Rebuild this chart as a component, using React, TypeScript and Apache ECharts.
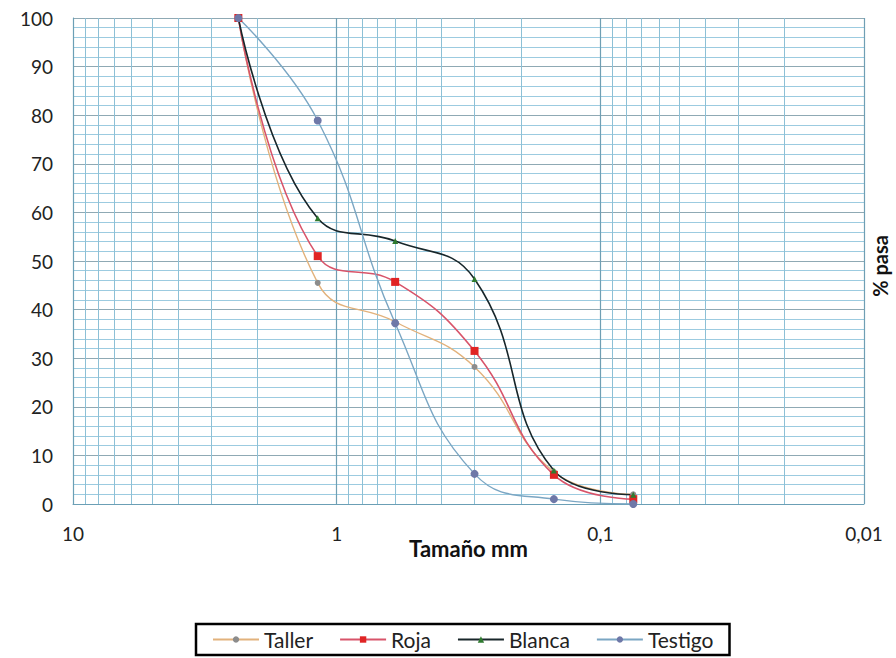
import React, { useEffect, useRef } from "react";
import * as echarts from "echarts";

const sieveSizes = [2.36, 1.18, 0.6, 0.3, 0.15, 0.075];
const taller = [100, 45.5, 37.5, 28.2, 6.6, 2];
const roja = [100, 51, 45.7, 31.5, 6, 1];
const blanca = [100, 58.8, 54.1, 46.3, 6.9, 1.9];
const testigo = [100, 78.9, 37.2, 6.2, 1, 0];
const xTickLabels: Record<string, string> = { "10": "10", "1": "1", "0.1": "0,1", "0.01": "0,01" };
const seriesNames = ["Taller", "Roja", "Blanca", "Testigo"];

const FONT = "Lato, 'Open Sans', sans-serif";

function pairs(vals: number[]) {
  return sieveSizes.map((s, i) => [s, vals[i]]);
}

export default function App() {
  const ref = useRef<HTMLDivElement>(null);
  useEffect(() => {
    if (!ref.current) return;
    const chart = echarts.init(ref.current, null, { renderer: "svg" });
    const minorX: number[] = [];
    [1, 0.1, 0.01].forEach((d) => {
      for (let k = 2; k <= 9; k++) minorX.push(+(k * d).toPrecision(3));
    });
    const mk = (
      name: string,
      vals: number[],
      lineColor: string,
      markerColor: string,
      symbol: string,
      size: number,
      width: number
    ) => ({
      name,
      type: "line",
      data: pairs(vals),
      smooth: 0.45,
      symbol,
      symbolSize: size,
      z: 5,
      lineStyle: { color: lineColor, width },
      itemStyle: { color: markerColor, borderWidth: 0 },
      emphasis: { disabled: true },
    });
    chart.setOption({
      animation: false,
      backgroundColor: "#ffffff",
      textStyle: { fontFamily: FONT },
      grid: { left: 73, right: 32, top: 18, bottom: 154 },
      xAxis: {
        type: "log",
        logBase: 10,
        min: 0.01,
        max: 10,
        inverse: true,
        name: "Tamaño mm",
        nameLocation: "middle",
        nameGap: 33,
        nameMoveOverlap: false,
        nameTextStyle: { fontFamily: FONT, fontSize: 22, fontWeight: "bold", color: "#111" },
        axisLine: { show: true, lineStyle: { color: "#6b9fb5", width: 1 } },
        axisTick: { show: false },
        axisLabel: {
          fontFamily: FONT,
          fontSize: 19,
          color: "#222",
          margin: 20,
          formatter: (v: number) => xTickLabels[String(+v.toPrecision(3))] ?? String(v).replace(".", ","),
        },
        splitLine: { show: true, lineStyle: { color: "#6f9fb4", width: 1.2 } },
      },
      yAxis: {
        type: "value",
        min: 0,
        max: 100,
        interval: 10,
        axisLine: { show: true, lineStyle: { color: "#6b9fb5" } },
        axisTick: { show: false },
        axisLabel: { fontFamily: FONT, fontSize: 19, color: "#222", margin: 20 },
        splitLine: { show: true, lineStyle: { color: "#8fa9b4", width: 1.2 } },
        minorTick: { show: false, splitNumber: 5 },
        minorSplitLine: { show: true, lineStyle: { color: "#9ccbe0", width: 1 } },
      },
      legend: {
        bottom: 3,
        left: 196,
        data: seriesNames,
        borderColor: "#000",
        borderWidth: 2.5,
        padding: [5, 16],
        itemGap: 26,
        itemWidth: 46,
        itemHeight: 8,
        textStyle: { fontFamily: FONT, fontSize: 21, color: "#222" },
      },
      graphic: [
        {
          type: "text",
          x: 880,
          y: 266,
          rotation: Math.PI / 2,
          style: {
            text: "% pasa",
            fontFamily: FONT,
            fontSize: 20,
            fontWeight: "bold",
            fill: "#111",
            align: "center",
            verticalAlign: "middle",
          },
        },
      ],
      series: [
        {
          name: "grid",
          type: "line",
          data: [],
          z: 1,
          silent: true,
          markLine: {
            silent: true,
            symbol: "none",
            label: { show: false },
            animation: false,
            lineStyle: { color: "#8dc0d6", width: 1, type: "solid" },
            data: minorX.map((v) => ({ xAxis: v })),
          },
        },
        mk("Taller", taller, "#e2b27c", "#8c8c8c", "circle", 6, 1.4),
        mk("Roja", roja, "#d8546a", "#e02424", "rect", 8, 1.6),
        mk("Blanca", blanca, "#18262a", "#2f7a2f", "triangle", 6, 1.6),
        mk("Testigo", testigo, "#7ba6c3", "#6e78a8", "circle", 8, 1.4),
      ],
    });
    return () => chart.dispose();
  }, []);
  return (
    <div
      ref={ref}
      style={{ position: "fixed", left: 0, top: 0, width: 896, height: 658 }}
    />
  );
}
